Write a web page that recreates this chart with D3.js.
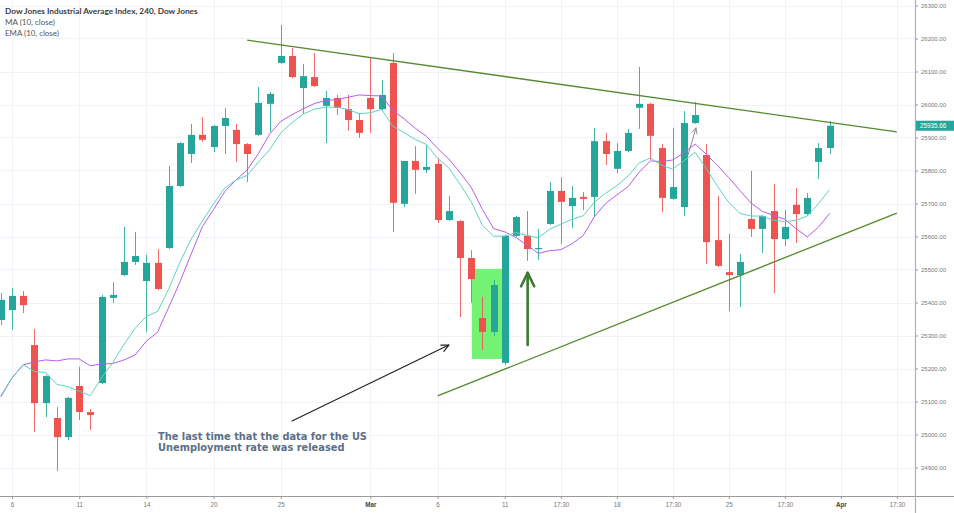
<!DOCTYPE html>
<html><head><meta charset="utf-8">
<script src="https://cdn.jsdelivr.net/npm/d3@7"></script>
<style>html,body{margin:0;padding:0;background:#fff;overflow:hidden}</style>
</head><body>
<svg id="chart" width="954" height="513"></svg>
<script>
// ---- DATA (240-minute bars, Dow Jones Industrial Average, Feb–Mar 2019) ----
const bars = [
 "Feb 5 b",
 "Feb 6 a","Feb 6 b","Feb 7 a","Feb 7 b","Feb 8 a","Feb 8 b","Feb 11 a","Feb 11 b","Feb 12 a","Feb 12 b",
 "Feb 13 a","Feb 13 b","Feb 14 a","Feb 14 b","Feb 15 a","Feb 15 b","Feb 19 a","Feb 19 b","Feb 20 a","Feb 20 b",
 "Feb 21 a","Feb 21 b","Feb 22 a","Feb 22 b","Feb 25 a","Feb 25 b","Feb 26 a","Feb 26 b","Feb 27 a","Feb 27 b",
 "Feb 28 a","Feb 28 b","Mar 1 a","Mar 1 b","Mar 4 a","Mar 4 b","Mar 5 a","Mar 5 b","Mar 6 a","Mar 6 b",
 "Mar 7 a","Mar 7 b","Mar 8 a","Mar 8 b","Mar 11 a","Mar 11 b","Mar 12 a","Mar 12 b","Mar 13 a","Mar 13 b",
 "Mar 14 a","Mar 14 b","Mar 15 a","Mar 15 b","Mar 18 a","Mar 18 b","Mar 19 a","Mar 19 b","Mar 20 a","Mar 20 b",
 "Mar 21 a","Mar 21 b","Mar 22 a","Mar 22 b","Mar 25 a","Mar 25 b","Mar 26 a","Mar 26 b","Mar 27 a","Mar 27 b",
 "Mar 28 a","Mar 28 b","Mar 29 a","Mar 29 b"
];
const firstBarIndex = -1;
const open = [25347,25377,25420,25271,25095,25050,24992,25147,25068,25156,25414,25483,25523,25465,25520,25565,25753,25850,25908,25871,25935,
 25923,25880,25908,26002,26126,26147,26050,26083,25996,26020,25986,25953,26020,25986,26126,25699,25829,25802,25820,25650,
 25647,25535,25353,25311,25217,25602,25602,25562,25638,25738,25692,25720,25720,25889,25805,25859,25990,26002,25868,25714,
 25689,25944,25847,25589,25492,25483,25653,25623,25677,25592,25696,25668,25826,25868];
const high = [25429,25444,25435,25320,25180,25083,25114,25205,25077,25423,25462,25629,25614,25544,25562,25814,25886,25941,25962,25938,25989,
 25941,25883,26053,26038,26241,26171,26123,26156,26041,26029,26029,25974,26141,26074,26156,25829,25874,25877,25838,25723,
 25650,25559,25417,25468,25605,25662,25677,25623,25765,25780,25753,25735,25929,25914,25883,25926,26114,26005,25880,25929,
 25980,26008,25880,25723,25608,25547,25799,25665,25759,25680,25747,25732,25883,25950];
const low = [25332,25317,25368,25008,25053,24889,24983,25044,25014,25153,25399,25480,25514,25311,25438,25562,25750,25823,25887,25856,25850,
 25826,25765,25905,25917,26123,26080,25971,26053,25883,25968,25920,25899,25914,25983,25614,25689,25729,25792,25641,25647,
 25356,25399,25256,25299,25211,25599,25526,25529,25635,25577,25626,25680,25659,25817,25792,25856,25926,25832,25674,25711,
 25662,25941,25517,25508,25374,25386,25599,25550,25429,25571,25580,25665,25774,25850];
const close = [25408,25420,25392,25095,25177,24992,25111,25068,25059,25417,25423,25523,25541,25520,25441,25753,25883,25908,25893,25935,25959,
 25880,25850,26005,26032,26147,26083,26086,26056,26020,25990,25953,25914,25986,26029,25702,25829,25802,25811,25650,25677,
 25535,25471,25311,25453,25602,25659,25562,25565,25738,25705,25717,25714,25889,25850,25859,25914,26002,25905,25717,25750,
 25944,25968,25583,25511,25483,25523,25623,25662,25592,25629,25668,25717,25868,25935.66];
const ma10 = [25114,25171,25211,25220,25226,25223,25229,25229,25208,25214,25215,25226,25241,25283,25310,25386,25463,25547,25630,25682,25736,
 25771,25802,25851,25910,25949,25969,25987,26003,26012,26015,26022,26029,26027,26026,25982,25957,25928,25904,25867,25835,
 25794,25749,25682,25624,25614,25597,25573,25549,25557,25560,25578,25603,25660,25700,25726,25751,25795,25829,25827,25832,
 25854,25880,25849,25815,25778,25739,25701,25676,25664,25652,25624,25599,25628,25670];
const ema10 = [25117,25172,25212,25191,25188,25152,25145,25131,25118,25172,25218,25273,25322,25358,25373,25442,25522,25592,25647,25699,25747,
 25771,25785,25825,25863,25914,25945,25971,25986,25992,25992,25985,25972,25975,25985,25934,25915,25894,25879,25837,25808,
 25758,25706,25634,25601,25601,25612,25603,25596,25622,25637,25652,25663,25704,25731,25754,25783,25823,25838,25816,25804,
 25830,25855,25805,25752,25703,25670,25662,25662,25649,25645,25649,25662,25699,25742];
const lastPrice = 25935.66;
const timeTickIndex = [0,6,12,18,24,32,38,44,49,54,59,64,69,74,79];
const timeTickLabels = ["6","11","14","20","25","Mar","6","11","17:30","18","17:30","25","17:30","Apr","17:30"];
const boldTicks = ["Mar","Apr"];
const priceTicks = [24900,25000,25100,25200,25300,25400,25500,25600,25700,25800,25900,26000,26100,26200,26300];
// drawings (bar index, price)
const upperTrend = [[21, 26195],[79, 25917]];
const lowerTrend = [[38, 25117],[79, 25671]];
const highlightBox = [[41.05, 25502],[43.75, 25229]];
const greenArrow = [[46.04, 25271],[46.04, 25490]];
const blackArrow = [[25.0, 25041],[39.0, 25271]];
const greyArrow = [[60.36, 25847],[61.07, 25929]];
const titleLines = ["Dow Jones Industrial Average Index, 240, Dow Jones","MA (10, close)","EMA (10, close)"];
const noteLines = ["The last time that the data for the US","Unemployment rate was released"];

// ---- CHART ----
const W = 954, H = 513, plotR = 915, plotB = 496;
const svg = d3.select("#chart");
const x = d3.scaleLinear().domain([0, 79]).range([12, 896.8]);
const y = d3.scaleLinear().domain([24900, 26300]).range([467.5, 5.5]);
const idx = d3.range(firstBarIndex, firstBarIndex + bars.length);
const data = idx.map((i, k) => ({i, label: bars[k], o: open[k], h: high[k], l: low[k], c: close[k], ma: ma10[k], ema: ema10[k]}));

svg.append("rect").attr("width", W).attr("height", H).attr("fill", "#fff");
svg.append("defs").append("clipPath").attr("id", "plot")
  .append("rect").attr("x", 0).attr("y", 0).attr("width", plotR).attr("height", plotB);

const grid = svg.append("g").attr("stroke", "#eff2f8").attr("stroke-width", 1);
grid.selectAll("line.h").data(priceTicks).join("line")
  .attr("x1", 0).attr("x2", plotR).attr("y1", d => Math.round(y(d)) + 0.5).attr("y2", d => Math.round(y(d)) + 0.5);
grid.selectAll("line.v").data(timeTickIndex).join("line")
  .attr("y1", 0).attr("y2", plotB).attr("x1", d => Math.round(x(d)) + 0.5).attr("x2", d => Math.round(x(d)) + 0.5);

const plot = svg.append("g").attr("clip-path", "url(#plot)");

// highlight box
plot.append("rect")
  .attr("x", x(highlightBox[0][0])).attr("y", y(highlightBox[0][1]))
  .attr("width", x(highlightBox[1][0]) - x(highlightBox[0][0]))
  .attr("height", y(highlightBox[1][1]) - y(highlightBox[0][1]))
  .attr("fill", "#74f274");

// candles
const up = "#26a69a", dn = "#ef5350";
const cg = plot.append("g");
cg.selectAll("line").data(data).join("line")
  .attr("x1", d => Math.round(x(d.i)) + 0.5).attr("x2", d => Math.round(x(d.i)) + 0.5)
  .attr("y1", d => y(d.h)).attr("y2", d => y(d.l))
  .attr("stroke", d => d.c >= d.o ? up : dn).attr("stroke-width", 1).attr("opacity", 0.85);
cg.selectAll("rect").data(data).join("rect")
  .attr("x", d => Math.round(x(d.i)) - 3).attr("width", 7)
  .attr("y", d => y(Math.max(d.o, d.c)))
  .attr("height", d => Math.max(1.2, Math.abs(y(d.o) - y(d.c))))
  .attr("fill", d => d.c >= d.o ? up : dn);

// indicators
const lineGen = key => d3.line().x(d => x(d.i)).y(d => y(d[key]));
plot.append("path").datum(data).attr("d", lineGen("ma")).attr("fill", "none").attr("stroke", "#b65cf0").attr("stroke-width", 1);
plot.append("path").datum(data).attr("d", lineGen("ema")).attr("fill", "none").attr("stroke", "#5fd2c4").attr("stroke-width", 1);

// trend lines
const pt = p => [x(p[0]), y(p[1])];
[upperTrend, lowerTrend].forEach(t => {
  const a = pt(t[0]), b = pt(t[1]);
  plot.append("line").attr("x1", a[0]).attr("y1", a[1]).attr("x2", b[0]).attr("y2", b[1])
    .attr("stroke", "#55892f").attr("stroke-width", 1.3);
});

function arrow(seg, color, width, head) {
  const a = pt(seg[0]), b = pt(seg[1]);
  const ang = Math.atan2(b[1] - a[1], b[0] - a[0]);
  const h1 = [b[0] - head * Math.cos(ang - 0.45), b[1] - head * Math.sin(ang - 0.45)];
  const h2 = [b[0] - head * Math.cos(ang + 0.45), b[1] - head * Math.sin(ang + 0.45)];
  const g = plot.append("g").attr("stroke", color).attr("stroke-width", width).attr("fill", "none")
    .attr("stroke-linecap", "round").attr("stroke-linejoin", "round");
  g.append("line").attr("x1", a[0]).attr("y1", a[1]).attr("x2", b[0]).attr("y2", b[1]);
  g.append("polyline").attr("points", [h1, b, h2].map(p => p.join(",")).join(" "));
}
arrow(greenArrow, "#3b7a2c", 2.6, 15);
arrow(blackArrow, "#222", 1.2, 8);
arrow(greyArrow, "#8a8f98", 1, 6);

// annotation text
function fitText(sel, target) {
  const w = sel.node().getComputedTextLength();
  const fs = parseFloat(sel.attr("font-size"));
  sel.attr("font-size", fs * target / w);
}
noteLines.forEach((t, k) => {
  const s = svg.append("text").attr("x", 158).attr("y", 440 + k * 11)
    .attr("font-family", "DejaVu Sans, Verdana, sans-serif").attr("font-weight", "bold")
    .attr("font-size", 10).attr("fill", "#5b6f87").text(t);
  if (k === 0) fitText(s, 209); else s.attr("font-size", svg.select("text").attr("font-size"));
});

// axes
const yAxis = d3.axisRight(y).tickValues(priceTicks).tickFormat(d3.format(".2f")).tickSize(3).tickPadding(3);
const gy = svg.append("g").attr("transform", `translate(${plotR},0)`).call(yAxis);
gy.select(".domain").remove();
gy.selectAll(".tick line").attr("stroke", "#999");
gy.selectAll(".tick text").attr("fill", "#777").attr("font-size", 6).attr("font-family", "Liberation Sans, Arial, sans-serif");

const xAxis = d3.axisBottom(x).tickValues(timeTickIndex).tickFormat((d, k) => timeTickLabels[k]).tickSize(3).tickPadding(4);
const gx = svg.append("g").attr("transform", `translate(0,${plotB})`).call(xAxis);
gx.select(".domain").remove();
gx.selectAll(".tick line").attr("stroke", "#999");
gx.selectAll(".tick text").attr("fill", (d, k) => boldTicks.includes(timeTickLabels[k]) ? "#444" : "#777")
  .attr("font-weight", (d, k) => boldTicks.includes(timeTickLabels[k]) ? "bold" : "normal")
  .attr("font-size", 6.3).attr("font-family", "Liberation Sans, Arial, sans-serif");

svg.append("line").attr("x1", 0).attr("x2", W).attr("y1", plotB + 0.5).attr("y2", plotB + 0.5).attr("stroke", "#9a9a9a");
svg.append("line").attr("x1", plotR + 0.5).attr("x2", plotR + 0.5).attr("y1", 0).attr("y2", H).attr("stroke", "#b0b0b0").attr("stroke-width", 1.2);

// last price label
const ly = y(lastPrice);
svg.append("rect").attr("x", plotR + 1).attr("y", ly - 5).attr("width", W - plotR - 1).attr("height", 10).attr("fill", up);
svg.append("text").attr("x", plotR + 5).attr("y", ly + 2.2).attr("fill", "#fff").attr("font-size", 6.3)
  .attr("font-family", "Liberation Sans, Arial, sans-serif").text(d3.format(".2f")(lastPrice));

// title / legend
const titleTargets = [193, 50, 54];
titleLines.forEach((t, k) => {
  const s = svg.append("text").attr("x", 5).attr("y", 13.5 + k * 11)
    .attr("font-family", "Lato, Open Sans, sans-serif").attr("font-weight", k === 0 ? 700 : 400)
    .attr("font-size", 10).attr("fill", k === 0 ? "#3c3c3c" : "#555").text(t);
  fitText(s, titleTargets[k]);
});
</script>
</body></html>
